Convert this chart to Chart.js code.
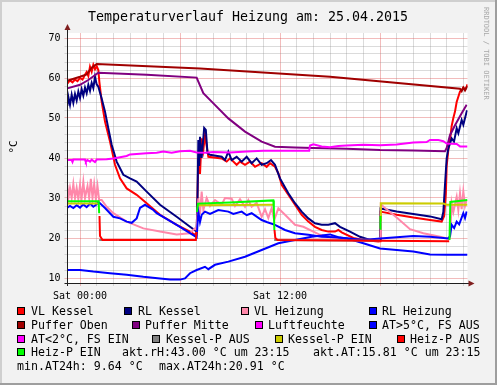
<!DOCTYPE html>
<html>
<head>
<meta charset="utf-8">
<script src="https://cdn.jsdelivr.net/npm/chart.js@4.4.1/dist/chart.umd.min.js"></script>
<style>
html, body { margin: 0; padding: 0; background: #f2f2f2; }
canvas { display: block; }
</style>
</head>
<body>
<canvas id="chart" width="497" height="385"></canvas>
<script>
const title = "Temperaturverlauf Heizung am: 25.04.2015";
const yTitle = "°C";
const watermark = "RRDTOOL / TOBI OETIKER";

// hours since Sat 00:00
const hourTicks = [0, 1, 2, 3, 4, 5, 6, 7, 8, 9, 10, 11, 12, 13, 14, 15, 16, 17, 18, 19, 20, 21, 22, 23];
const hourLabels = { 0: "Sat 00:00", 12: "Sat 12:00" };
const degTicks = [10, 12, 14, 16, 18, 20, 22, 24, 26, 28, 30, 32, 34, 36, 38, 40, 42, 44, 46, 48, 50, 52, 54, 56, 58, 60, 62, 64, 66, 68, 70];

const seriesNames = ["VL Kessel", "RL Kessel", "VL Heizung", "RL Heizung", "Puffer Oben", "Puffer Mitte",
    "Luftfeuchte", "AT>5°C, FS AUS", "AT<2°C, FS EIN", "Kessel-P AUS", "Kessel-P EIN", "Heiz-P AUS", "Heiz-P EIN"];
const seriesColors = ["#FF0000", "#000080", "#FF88AA", "#0000FF", "#A00000", "#800080",
    "#FF00FF", "#0000FF", "#FF00FF", "#808080", "#CCCC00", "#FF0000", "#00FF00"];

const vlKessel = [[-0.76,58.6],[-0.6,59.4],[-0.45,58.9],[-0.3,59.6],[-0.15,59.2],[0,60.0],[0.15,59.6],[0.3,60.8],[0.4,61.5],[0.5,60.5],[0.6,62.8],[0.7,61.6],[0.8,63.3],[0.9,62.2],[1.0,63.0],[1.1,62.0],[1.16,59.1],[1.3,54.1],[1.5,49.1],[1.8,44.1],[2.1,38.3],[2.4,34.9],[2.8,32.4],[3.4,30.8],[4.0,28.7],[4.8,25.8],[5.8,23.3],[6.6,21.6],[6.9,20.8],[7.0,21.5],[7.1,39.9],[7.2,36.0],[7.3,44.9],[7.4,42.0],[7.5,45.8],[7.6,43.0],[7.7,40.3],[8.5,39.9],[8.8,39.1],[9.0,39.9],[9.4,38.3],[9.6,39.1],[9.9,38.3],[10.2,39.1],[10.5,37.8],[10.9,38.7],[11.2,37.8],[11.4,38.7],[11.7,37.8],[11.9,36.2],[12.1,33.3],[12.5,30.8],[12.9,28.3],[13.3,25.8],[13.7,24.1],[14.1,22.8],[14.5,22.0],[14.9,21.6],[15.3,21.6],[15.5,22.0],[15.7,21.4],[16.4,20.0],[17.0,19.5],[17.9,19.1],[18.0,19.2],[18.03,26.6],[19.0,25.8],[20.0,25.1],[21.0,24.5],[21.7,24.1],[21.85,25.5],[21.95,31.0],[22.0,38.0],[22.1,42.0],[22.2,44.5],[22.3,48.0],[22.4,50.0],[22.5,51.6],[22.6,54.0],[22.7,55.3],[22.8,56.6],[22.9,57.0],[23.0,57.6],[23.1,57.2],[23.2,57.8],[23.25,58.4]];
const rlKessel = [[-0.76,53.0],[-0.7,55.3],[-0.6,53.3],[-0.5,55.8],[-0.4,53.8],[-0.3,56.0],[-0.2,54.4],[-0.1,56.6],[0,55.0],[0.1,57.2],[0.2,55.6],[0.3,57.6],[0.4,56.2],[0.5,58.3],[0.6,56.8],[0.7,58.8],[0.8,57.5],[0.9,60.3],[1.0,58.4],[1.1,57.8],[1.3,54.9],[1.5,51.6],[1.7,47.4],[1.9,43.3],[2.2,39.1],[2.6,35.8],[3.0,34.9],[3.4,34.1],[4.0,31.6],[4.8,28.3],[5.8,25.3],[6.6,22.8],[7.0,21.6],[7.05,30.0],[7.1,44.5],[7.15,38.0],[7.2,45.3],[7.3,40.0],[7.45,47.5],[7.55,47.0],[7.65,41.2],[7.8,40.8],[8.5,40.3],[8.7,39.5],[8.9,41.6],[9.1,39.5],[9.4,40.3],[9.7,39.1],[10.0,40.3],[10.3,38.7],[10.6,39.9],[10.9,38.3],[11.2,38.7],[11.46,39.5],[11.7,38.3],[12.0,34.9],[12.5,31.2],[12.9,28.7],[13.3,26.6],[13.7,24.9],[14.1,23.7],[14.5,23.3],[14.9,23.3],[15.3,23.7],[15.6,22.8],[16.2,21.6],[16.8,20.3],[17.4,19.5],[17.9,19.3],[18.0,19.5],[18.03,27.4],[19.0,26.6],[20.0,26.0],[21.0,25.4],[21.7,24.7],[21.8,26.5],[21.9,33.3],[22.0,39.9],[22.1,42.4],[22.3,44.9],[22.44,44.1],[22.6,47.4],[22.7,46.2],[22.9,49.5],[23.0,48.3],[23.2,51.6],[23.25,51.9]];
const vlHeizung = [[-0.76,33.2],[-0.7,29.9],[-0.6,32.5],[-0.5,30.0],[-0.4,33.5],[-0.3,30.0],[-0.2,32.5],[-0.1,29.7],[0,33.2],[0.1,30.0],[0.2,34.0],[0.3,30.0],[0.45,33.0],[0.55,30.0],[0.65,34.8],[0.75,30.0],[0.85,33.5],[0.95,29.7],[1.05,33.0],[1.15,29.5],[1.3,29.5],[1.6,27.8],[2.0,26.2],[2.8,24.1],[3.8,22.4],[4.8,21.6],[5.8,20.9],[6.6,21.2],[6.9,22.4],[7.0,22.0],[7.1,29.9],[7.2,26.0],[7.3,31.6],[7.4,27.0],[7.6,30.0],[7.8,28.0],[8.1,29.5],[8.5,28.3],[8.7,30.0],[9.1,29.8],[9.3,28.0],[9.6,29.7],[9.9,27.8],[10.1,29.5],[10.3,27.8],[10.6,28.8],[10.9,25.3],[11.1,27.2],[11.3,25.0],[11.5,27.5],[11.65,24.5],[11.9,27.4],[12.3,25.8],[12.9,23.3],[13.4,22.8],[14.4,20.8],[15.4,19.9],[16.4,19.5],[17.9,19.6],[18.0,20.0],[18.05,28.4],[18.3,27.5],[19.0,25.1],[19.8,22.2],[20.6,21.2],[21.6,20.3],[22.1,19.8],[22.2,20.0],[22.3,28.7],[22.4,26.5],[22.6,30.3],[22.7,27.0],[22.8,31.2],[22.9,27.2],[23.0,31.6],[23.1,28.0],[23.2,29.5]];
const rlHeizung = [[-0.76,27.6],[-0.6,28.0],[-0.4,27.5],[-0.2,28.2],[0,27.6],[0.2,28.4],[0.4,27.7],[0.6,28.6],[0.8,27.8],[1.0,28.4],[1.1,29.0],[1.2,28.7],[1.5,27.5],[2.0,25.3],[2.4,24.9],[2.8,24.1],[3.1,23.8],[3.4,24.9],[3.6,27.5],[3.9,28.3],[4.4,27.0],[4.6,26.2],[5.8,23.3],[6.6,21.2],[7.0,20.2],[7.1,26.6],[7.2,24.0],[7.3,25.8],[7.5,26.6],[7.8,26.0],[8.3,27.0],[8.9,26.6],[9.2,26.0],[9.7,26.6],[10.0,25.7],[10.3,26.2],[10.9,24.5],[11.2,24.0],[11.7,23.3],[12.3,22.0],[12.9,21.2],[13.7,20.8],[14.5,20.3],[15.3,20.2],[16.2,19.9],[17.0,19.5],[18.0,19.9],[19.0,20.2],[20.0,20.5],[21.0,20.3],[22.1,19.9],[22.2,20.5],[22.3,23.3],[22.45,22.5],[22.6,24.1],[22.75,23.4],[23.0,26.2],[23.1,25.0],[23.2,26.6]];
const pufferOben = [[-0.76,59.3],[0,60.3],[0.4,60.9],[0.7,62.6],[1.0,63.5],[7.2,62.4],[15.0,60.3],[22.8,57.3],[22.9,56.7],[23.0,57.6],[23.1,56.9],[23.25,58.0]];
const pufferMitte = [[-0.76,57.4],[0,58.3],[0.5,59.5],[1.1,61.3],[4.0,60.8],[7.0,60.1],[7.1,59.1],[7.4,56.2],[7.9,54.1],[8.9,49.9],[9.9,46.6],[10.9,44.1],[11.7,42.8],[12.9,42.6],[14.0,42.5],[16.0,42.3],[18.0,42.0],[20.0,41.9],[21.9,41.7],[22.0,42.5],[22.2,45.7],[22.5,48.2],[22.9,51.2],[23.2,53.3]];
const luftfeuchte = [[-0.76,39.5],[-0.5,39.5],[-0.45,39.0],[-0.4,39.6],[0.3,39.6],[0.35,39.0],[0.45,39.5],[0.6,39.1],[0.7,39.6],[0.9,39.0],[1.0,39.6],[1.6,39.7],[2.0,39.9],[2.4,40.2],[2.8,40.5],[3.0,40.9],[3.4,41.0],[4.0,41.2],[4.6,41.3],[5.0,41.6],[5.5,41.3],[6.0,41.7],[6.6,41.8],[7.0,41.4],[7.5,41.3],[8.0,41.5],[9.0,41.4],[10.0,41.6],[11.0,41.8],[12.0,41.8],[13.0,41.8],[13.75,41.8],[13.8,43.1],[14.0,43.4],[14.5,42.9],[15.0,42.7],[15.5,43.0],[16.0,43.1],[17.0,43.3],[18.0,43.2],[19.0,43.4],[20.0,43.9],[20.8,44.0],[21.0,44.5],[21.5,44.5],[21.8,44.2],[22.0,43.6],[22.6,43.5],[22.8,42.9],[23.25,42.9]];
const atWarm = [[-0.76,12.0],[0,12.0],[0.8,11.6],[1.8,11.2],[2.8,10.8],[3.8,10.3],[4.8,9.9],[5.4,9.6],[6.0,9.6],[6.3,9.9],[6.6,11.2],[7.0,12.0],[7.5,12.8],[7.7,12.2],[8.1,13.3],[8.9,14.1],[9.9,15.3],[10.9,17.0],[11.9,18.7],[12.9,19.5],[13.9,20.3],[14.5,20.6],[15.0,20.9],[15.5,20.2],[16.0,19.9],[17.0,18.7],[18.0,17.4],[19.0,17.0],[20.0,16.6],[21.0,15.9],[22.0,15.8],[23.25,15.8]];
const atCold = [];
const kesselPAus = [[1.15,19.5],[6.98,19.5],[6.99,null],[11.65,19.5],[18.0,19.3]];
const kesselPEin = [[-0.76,28.6],[1.12,28.6],[1.13,null],[7.05,28.2],[11.6,28.3],[11.61,null],[18.02,24.5],[18.05,28.7],[21.8,28.6],[22.0,28.3],[23.25,28.3]];
const heizPAus = [[1.17,25.5],[1.2,20.5],[1.35,19.5],[6.95,19.5],[7.0,21.5],[7.01,null],[11.67,22.0],[11.72,20.0],[11.85,19.5],[18.0,19.3],[22.15,19.2]];
const heizPEin = [[-0.76,29.2],[1.12,29.2],[1.15,26.2],[1.16,null],[7.02,26.5],[7.08,28.6],[9.0,28.9],[11.6,29.4],[11.63,27.4],[11.66,22.0],[11.67,null],[18.0,22.3],[18.03,25.5],[18.04,null],[22.17,19.5],[22.22,29.0],[23.25,29.5]];

const aktRH = 43.00, aktAT = 15.81, aktTime = "23:15";
const minAT = 9.64, maxAT = 20.91;

const allSeries = [vlKessel, rlKessel, vlHeizung, rlHeizung, pufferOben, pufferMitte,
    luftfeuchte, atWarm, atCold, kesselPAus, kesselPEin, heizPAus, heizPEin];

const mono = "'DejaVu Sans Mono', monospace";
const gridMinor = "rgba(143,143,143,0.32)";
const gridMajor = "rgba(222,79,79,0.38)";

function drawLegendItem(ctx, i, sq, tx, base) {
    const y = Math.round(base) - 8;
    ctx.fillStyle = "#000";
    ctx.fillRect(sq, y, 8, 8);
    ctx.fillStyle = seriesColors[i];
    ctx.fillRect(sq + 1, y + 1, 6, 6);
    ctx.fillStyle = "#000";
    ctx.fillText(seriesNames[i], tx, base);
}

const rrdFrame = {
    id: "rrdFrame",
    beforeDraw(c) {
        const ctx = c.ctx, a = c.chartArea;
        ctx.save();
        ctx.fillStyle = "#F2F2F2";
        ctx.fillRect(0, 0, c.width, c.height);
        ctx.fillStyle = "#CFCFCF";
        ctx.fillRect(0, 0, c.width, 2);
        ctx.fillRect(0, 0, 2, c.height);
        ctx.fillStyle = "#9E9E9E";
        ctx.fillRect(0, c.height - 2, c.width, 2);
        ctx.fillRect(c.width - 2, 0, 2, c.height);
        ctx.fillStyle = "#FFFFFF";
        ctx.fillRect(a.left, a.top, a.right - a.left, a.bottom - a.top);
        ctx.restore();
    },
    afterDraw(c) {
        const ctx = c.ctx, a = c.chartArea;
        ctx.save();
        // axes with arrows
        ctx.strokeStyle = "#1F1F1F";
        ctx.lineWidth = 1;
        ctx.beginPath();
        ctx.moveTo(a.left, a.bottom + 3);
        ctx.lineTo(a.left, a.top - 4);
        ctx.moveTo(a.left - 3, a.bottom + 0.5);
        ctx.lineTo(a.right + 3, a.bottom + 0.5);
        ctx.stroke();
        ctx.fillStyle = "#801F1F";
        ctx.beginPath();
        ctx.moveTo(a.left - 3, a.top - 3);
        ctx.lineTo(a.left + 3, a.top - 3);
        ctx.lineTo(a.left, a.top - 9);
        ctx.closePath();
        ctx.fill();
        ctx.beginPath();
        ctx.moveTo(a.right + 1, a.bottom - 2.5);
        ctx.lineTo(a.right + 1, a.bottom + 3.5);
        ctx.lineTo(a.right + 7, a.bottom + 0.5);
        ctx.closePath();
        ctx.fill();

        // title
        ctx.fillStyle = "#000";
        ctx.font = "13.3px " + mono;
        ctx.textAlign = "center";
        ctx.textBaseline = "alphabetic";
        ctx.fillText(title, 248, 21);

        // y axis title
        ctx.save();
        ctx.translate(14, 147);
        ctx.rotate(-Math.PI / 2);
        ctx.font = "11px " + mono;
        ctx.textBaseline = "middle";
        ctx.fillText(yTitle, 0, 0);
        ctx.restore();

        // watermark
        ctx.save();
        ctx.translate(486, 7);
        ctx.rotate(Math.PI / 2);
        ctx.font = "7px " + mono;
        ctx.textAlign = "left";
        ctx.textBaseline = "middle";
        ctx.fillStyle = "#A8A8A8";
        ctx.fillText(watermark, 0, 0);
        ctx.restore();

        // legend
        ctx.font = "11.6px " + mono;
        ctx.textAlign = "left";
        ctx.textBaseline = "alphabetic";
        const r = [315, 328.7, 342.5, 356.2, 370];
        drawLegendItem(ctx, 0, 17, 31, r[0]);
        drawLegendItem(ctx, 1, 124, 138, r[0]);
        drawLegendItem(ctx, 2, 241, 254, r[0]);
        drawLegendItem(ctx, 3, 369, 382, r[0]);
        drawLegendItem(ctx, 4, 17, 31, r[1]);
        drawLegendItem(ctx, 5, 132, 145, r[1]);
        drawLegendItem(ctx, 6, 255, 268, r[1]);
        drawLegendItem(ctx, 7, 369, 382, r[1]);
        drawLegendItem(ctx, 8, 17, 31, r[2]);
        drawLegendItem(ctx, 9, 152, 166, r[2]);
        drawLegendItem(ctx, 10, 275, 288, r[2]);
        drawLegendItem(ctx, 11, 397, 410, r[2]);
        drawLegendItem(ctx, 12, 17, 31, r[3]);
        ctx.fillStyle = "#000";
        ctx.fillText("akt.rH:" + aktRH.toFixed(2) + " °C um " + aktTime, 122, r[3]);
        ctx.fillText("akt.AT:" + aktAT.toFixed(2) + " °C um " + aktTime, 313, r[3]);
        ctx.fillText("min.AT24h:" + minAT.toFixed(2).padStart(5) + " °C", 17, r[4]);
        ctx.fillText("max.AT24h:" + maxAT.toFixed(2).padStart(5) + " °C", 159, r[4]);
        ctx.restore();
    }
};

const datasets = allSeries.map((s, i) => ({
    label: seriesNames[i],
    data: s.map(p => ({ x: p[0], y: p[1] })),
    borderColor: seriesColors[i],
    backgroundColor: seriesColors[i],
    borderWidth: 2,
    pointRadius: 0,
    tension: 0,
    fill: false,
    order: -i
}));

new Chart(document.getElementById("chart"), {
    type: "line",
    data: { datasets: datasets },
    options: {
        responsive: false,
        animation: false,
        devicePixelRatio: 1,
        layout: { padding: { left: 0, right: 29.5, top: 33, bottom: 0 } },
        plugins: { legend: { display: false }, tooltip: { enabled: false } },
        scales: {
            x: {
                type: "linear",
                min: -0.75,
                max: 23.25,
                afterBuildTicks: s => { s.ticks = hourTicks.map(v => ({ value: v })); },
                afterFit: s => { s.height = 102; },
                border: { display: false },
                grid: {
                    color: ctx => ctx.tick && ctx.tick.value % 6 === 0 ? gridMajor : gridMinor,
                    tickColor: ctx => ctx.tick && ctx.tick.value % 6 === 0 ? gridMajor : gridMinor,
                    tickLength: 3
                },
                ticks: {
                    autoSkip: false,
                    maxRotation: 0,
                    padding: 4,
                    color: "#000",
                    font: { family: mono, size: 10 },
                    callback: v => hourLabels[v] || ""
                }
            },
            y: {
                min: 8.75,
                max: 71.25,
                afterBuildTicks: s => { s.ticks = degTicks.map(v => ({ value: v })); },
                afterFit: s => { s.width = 67.5; },
                border: { display: false },
                grid: {
                    color: ctx => ctx.tick && ctx.tick.value % 10 === 0 ? gridMajor : gridMinor,
                    tickColor: ctx => ctx.tick && ctx.tick.value % 10 === 0 ? gridMajor : gridMinor,
                    tickLength: 3
                },
                ticks: {
                    autoSkip: false,
                    padding: 4,
                    color: "#000",
                    font: { family: mono, size: 10 },
                    callback: v => v % 10 === 0 ? String(v) : ""
                }
            }
        }
    },
    plugins: [rrdFrame]
});
</script>
</body>
</html>
